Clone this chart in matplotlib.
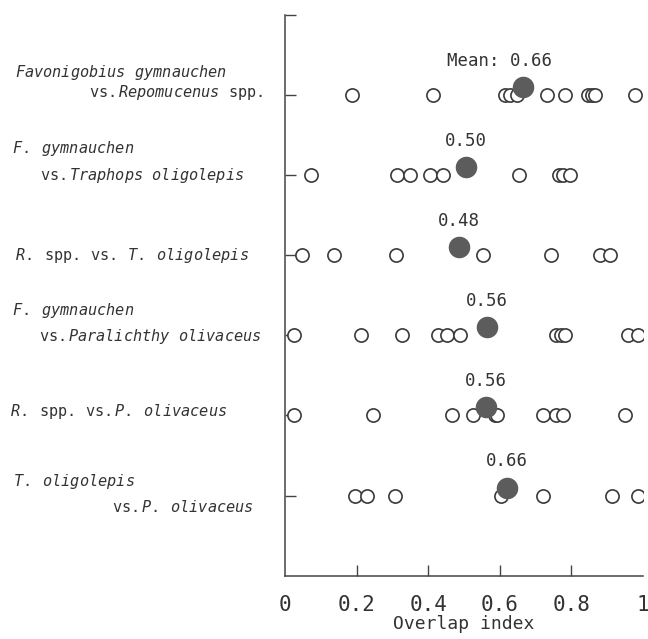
import matplotlib
matplotlib.use('Agg')
import matplotlib.pyplot as plt

# overlap index of each pair (open circles), top row first
rows = [6, 5, 4, 3, 2, 1]
pair_values = [
    [0.186, 0.414, 0.615, 0.628, 0.647, 0.731, 0.782, 0.847, 0.857, 0.866, 0.978],
    [0.072, 0.312, 0.349, 0.405, 0.440, 0.655, 0.764, 0.776, 0.796],
    [0.047, 0.137, 0.310, 0.552, 0.743, 0.880, 0.908],
    [0.025, 0.211, 0.328, 0.428, 0.452, 0.489, 0.757, 0.770, 0.782, 0.959, 0.987],
    [0.025, 0.245, 0.466, 0.524, 0.587, 0.593, 0.720, 0.757, 0.776, 0.950],
    [0.196, 0.228, 0.307, 0.603, 0.722, 0.913, 0.987],
]
mean_pos = [0.666, 0.506, 0.486, 0.563, 0.561, 0.621]
mean_text = ['Mean: 0.66', '0.50', '0.48', '0.56', '0.56', '0.66']

# (text, x in figure fraction, ha, y offset in points)
row_labels = [
    [(r'$\mathit{Favonigobius}$ $\mathit{gymnauchen}$', 0.023, 'left', 16),
     (r'vs.$\,\mathit{Repomucenus}$ spp.', 0.406, 'right', 2)],
    [(r'$\mathit{F.}$ $\mathit{gymnauchen}$', 0.018, 'left', 19),
     (r'vs.$\,\mathit{Traphops}$ $\mathit{oligolepis}$', 0.062, 'left', 0)],
    [(r'$\mathit{R.}$ spp. vs. $\mathit{T.}$ $\mathit{oligolepis}$', 0.023, 'left', 0)],
    [(r'$\mathit{F.}$ $\mathit{gymnauchen}$', 0.018, 'left', 18),
     (r'vs.$\,\mathit{Paralichthy}$ $\mathit{olivaceus}$', 0.060, 'left', -1)],
    [(r'$\mathit{R.}$ spp. vs.$\,\mathit{P.}$ $\mathit{olivaceus}$', 0.015, 'left', 3)],
    [(r'$\mathit{T.}$ $\mathit{oligolepis}$', 0.020, 'left', 10),
     (r'vs.$\,\mathit{P.}$ $\mathit{olivaceus}$', 0.173, 'left', -8)],
]

xticks = [0, 0.2, 0.4, 0.6, 0.8, 1]
xticklabels = ['0', '0.2', '0.4', '0.6', '0.8', '1']

plt.rcParams['font.family'] = 'DejaVu Sans Mono'
plt.rcParams['mathtext.fontset'] = 'custom'
plt.rcParams['mathtext.rm'] = 'DejaVu Sans Mono'
plt.rcParams['mathtext.it'] = 'DejaVu Sans Mono:italic'

ink = '#333333'
fig = plt.figure(figsize=(6.48, 6.39), dpi=100)
ax = fig.add_axes([0.4398, 0.0991, 0.5525, 0.8774])

for y, vals in zip(rows, pair_values):
    ax.plot(vals, [y] * len(vals), 'o', ms=9.5, mfc='white', mec='#3a3a3a',
            mew=1.2, ls='none', zorder=3)

for i, y in enumerate(rows):
    ax.plot(mean_pos[i], y + 0.1, 'o', ms=14.5, color='#5c5c5c', mec='#5c5c5c',
            zorder=4)
    dx = -17 if i == 0 else 0
    ax.annotate(mean_text[i], xy=(mean_pos[i], y + 0.1), xytext=(dx, 19),
                textcoords='offset points', ha='center', va='center',
                fontsize=12.5, color=ink)
    for txt, xf, ha, dy in row_labels[i]:
        ax.annotate(txt, xy=(xf, y), xycoords=('figure fraction', 'data'),
                    xytext=(0, dy), textcoords='offset points', ha=ha,
                    va='center', fontsize=11, color=ink)

ax.set_xlim(0, 1)
ax.set_ylim(0, 7)
ax.set_yticks([1, 2, 3, 4, 5, 6, 7])
ax.set_yticklabels([])
ax.set_xticks(xticks)
ax.set_xticklabels(xticklabels, fontsize=15, color=ink)
ax.tick_params(axis='both', direction='in', length=8, width=1, color='#444444')
ax.tick_params(axis='x', pad=14)
xt = ax.xaxis.get_major_ticks()
xt[0].tick1line.set_visible(False)
xt[-1].tick1line.set_visible(False)

for side in ['top', 'right']:
    ax.spines[side].set_visible(False)
for side in ['left', 'bottom']:
    ax.spines[side].set_color('#444444')
    ax.spines[side].set_linewidth(1.1)

ax.set_xlabel('Overlap index', fontsize=13, color=ink, labelpad=0)

fig.savefig('out.png', dpi=100)
